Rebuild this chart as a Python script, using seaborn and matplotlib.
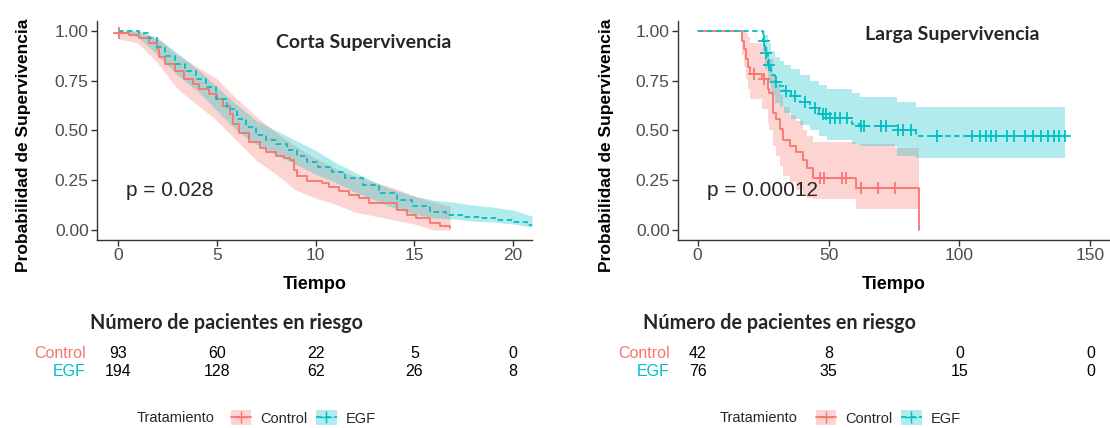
import numpy as np
import matplotlib
matplotlib.use("Agg")
import matplotlib.pyplot as plt
import matplotlib.transforms as mtransforms
from matplotlib.patches import Patch
from matplotlib.lines import Line2D
import seaborn as sns

# ---------------- data ----------------
groups = ["Control", "EGF"]

# Left panel: Corta Supervivencia
short_ctrl_t = [0, 0.55, 1.05, 1.55, 2.0, 2.07, 2.4, 2.9, 3.35, 3.8, 4.1, 4.6, 5.0, 5.3, 5.65, 5.82, 6.15, 6.65,
                7.2, 7.5, 8.0, 8.4, 8.7, 8.9, 9.05, 9.55, 10.3, 10.7, 11.2, 11.7, 12.2, 12.7, 14.1, 14.6, 15.1,
                15.8, 16.3, 16.8]
short_ctrl_s = [0.99, 0.98, 0.965, 0.94, 0.91, 0.87, 0.835, 0.80, 0.76, 0.735, 0.71, 0.685, 0.66, 0.625, 0.585,
                0.535, 0.485, 0.44, 0.41, 0.39, 0.37, 0.36, 0.35, 0.30, 0.27, 0.245, 0.235, 0.215, 0.195, 0.175,
                0.16, 0.135, 0.10, 0.075, 0.06, 0.035, 0.022, 0.012]
short_ctrl_band_t = [0, 1, 2, 3, 4, 5, 6, 7, 8, 9, 10, 11, 12, 13, 14, 15, 16, 16.8]
short_ctrl_upper = [1.0, 1.0, 0.97, 0.88, 0.82, 0.76, 0.66, 0.57, 0.49, 0.42, 0.36, 0.31, 0.27, 0.24, 0.21, 0.17,
                    0.14, 0.12]
short_ctrl_lower = [0.96, 0.94, 0.84, 0.71, 0.63, 0.55, 0.45, 0.35, 0.28, 0.20, 0.16, 0.13, 0.09, 0.07, 0.05,
                    0.03, 0.0, 0.0]
short_ctrl_cens_t = [0.05]

short_egf_t = [0, 1.05, 1.55, 2.0, 2.4, 2.9, 3.4, 3.95, 4.45, 4.95, 5.5, 6.0, 6.5, 7.0, 7.5, 8.0, 8.55, 9.05,
               9.55, 10.1, 10.85, 11.5, 12.4, 13.2, 14.1, 14.9, 15.8, 16.6, 17.5, 18.3, 19.2, 20.0, 20.7, 20.95]
short_egf_s = [1.0, 0.99, 0.965, 0.92, 0.875, 0.835, 0.80, 0.76, 0.72, 0.66, 0.61, 0.56, 0.52, 0.475, 0.45,
               0.43, 0.40, 0.37, 0.34, 0.315, 0.29, 0.26, 0.225, 0.185, 0.15, 0.12, 0.09, 0.075, 0.066, 0.058,
               0.05, 0.042, 0.025, 0.02]
short_egf_band_t = [0, 1, 2, 3, 4, 5, 6, 7, 8, 9, 10, 11, 12, 13, 14, 15, 16, 17, 18, 19, 20, 20.95]
short_egf_upper = [1.0, 1.0, 0.96, 0.89, 0.81, 0.72, 0.63, 0.55, 0.50, 0.45, 0.40, 0.34, 0.29, 0.24, 0.20,
                   0.17, 0.15, 0.14, 0.125, 0.115, 0.10, 0.07]
short_egf_lower = [1.0, 0.97, 0.88, 0.78, 0.70, 0.60, 0.50, 0.43, 0.38, 0.33, 0.28, 0.24, 0.19, 0.15, 0.11,
                   0.08, 0.06, 0.055, 0.045, 0.04, 0.03, 0.015]
short_egf_cens_t = []

# Right panel: Larga Supervivencia
long_ctrl_t = [0, 16.8, 17.6, 18.4, 19.2, 20.0, 24.6, 26.7, 27.4, 28.7, 30.0, 31.3, 32.6, 35.1, 37.7, 40.3,
               41.6, 44.2, 60.3, 75.2, 84.6]
long_ctrl_s = [1.0, 0.95, 0.91, 0.86, 0.82, 0.785, 0.76, 0.71, 0.69, 0.59, 0.56, 0.51, 0.45, 0.42, 0.39, 0.35,
               0.31, 0.26, 0.21, 0.21, 0.0]
long_ctrl_upper = [1.0, 1.0, 1.0, 0.99, 0.97, 0.94, 0.92, 0.88, 0.86, 0.78, 0.73, 0.68, 0.62, 0.58, 0.55, 0.50,
                   0.47, 0.44, 0.43, 0.41, 0.41]
long_ctrl_lower = [1.0, 0.88, 0.82, 0.76, 0.71, 0.66, 0.61, 0.54, 0.50, 0.42, 0.37, 0.32, 0.27, 0.24, 0.20,
                   0.17, 0.16, 0.155, 0.105, 0.105, 0.105]
long_ctrl_cens_t = [21.5, 25.4, 46.8, 48.1, 55.2, 56.5, 62.3, 68.7, 75.2]

long_egf_t = [0, 25.0, 25.8, 27.0, 28.0, 29.5, 31.3, 33.0, 35.5, 39.0, 43.0, 46.5, 49.5, 58.8, 62.0, 76.0,
              83.5, 140.5]
long_egf_s = [1.0, 0.95, 0.89, 0.83, 0.78, 0.745, 0.725, 0.70, 0.675, 0.645, 0.615, 0.585, 0.565, 0.535,
              0.525, 0.50, 0.47, 0.47]
long_egf_upper = [1.0, 1.0, 0.98, 0.94, 0.90, 0.87, 0.85, 0.83, 0.81, 0.78, 0.75, 0.73, 0.71, 0.69, 0.67,
                  0.645, 0.62, 0.62]
long_egf_lower = [1.0, 0.90, 0.81, 0.74, 0.68, 0.64, 0.62, 0.59, 0.56, 0.53, 0.50, 0.47, 0.45, 0.43, 0.42,
                  0.37, 0.36, 0.36]
long_egf_cens_t = [25.5, 26.3, 27.4, 30.0, 33.9, 37.1, 41.0, 45.0, 48.0, 49.0, 50.6, 52.5, 54.5, 57.1, 62.3,
                   63.5, 70.0, 72.0, 76.5, 78.5, 81.5, 91.4, 104.8, 108.0, 110.0, 112.0, 114.0, 118.0, 121.0,
                   125.0, 128.0, 131.0, 134.0, 136.0, 138.0, 140.5]

# Risk tables
short_risk_times = [0, 5, 10, 15, 20]
short_risk_ctrl = [93, 60, 22, 5, 0]
short_risk_egf = [194, 128, 62, 26, 8]
long_risk_times = [0, 50, 100, 150]
long_risk_ctrl = [42, 8, 0, 0]
long_risk_egf = [76, 35, 15, 0]

short_xticks = [0, 5, 10, 15, 20]
long_xticks = [0, 50, 100, 150]
yticks = [0.0, 0.25, 0.5, 0.75, 1.0]
ytick_labels = ["0.00", "0.25", "0.50", "0.75", "1.00"]

# ---------------- style ----------------
sns.set_theme(style="white")
plt.rcParams["font.family"] = ["Liberation Sans", "DejaVu Sans"]

RED = "#F8766D"
CYAN = "#00BFC4"
TXT = "#4D4D4D"
HEAD_FONT = ["Lato", "DejaVu Sans"]
W, H = 1110, 428

fig = plt.figure(figsize=(W / 100, H / 100), dpi=100)


def add_ax(l, t, r, b):
    return fig.add_axes([l / W, 1 - b / H, (r - l) / W, (b - t) / H])


def step_lookup(ts, ss, q):
    idx = np.searchsorted(np.asarray(ts), np.asarray(q, dtype=float), side="right") - 1
    return [ss[i] for i in idx]


def draw_curve(ax, t, s, bt, up, lo, ct, color, ls, band_step):
    ax.fill_between(bt, lo, up, step=band_step, color=color, alpha=0.3, lw=0)
    sns.lineplot(x=t, y=s, ax=ax, color=color, drawstyle="steps-post", linestyle=ls,
                 estimator=None, sort=False, lw=1.3)
    if len(ct):
        cs = step_lookup(t, s, ct)
        sns.scatterplot(x=ct, y=cs, ax=ax, marker="+", s=70, color=color, linewidth=1.3, zorder=5)


def style_ax(ax, xlim, xticks):
    ax.set_xlim(*xlim)
    ax.set_ylim(-0.05, 1.05)
    ax.set_xticks(xticks)
    ax.set_yticks(yticks)
    ax.set_yticklabels(ytick_labels)
    for sp in ["top", "right"]:
        ax.spines[sp].set_visible(False)
    for sp in ["left", "bottom"]:
        ax.spines[sp].set_color("#333333")
        ax.spines[sp].set_linewidth(1.0)
    ax.tick_params(bottom=True, left=True, length=4, width=1, color="#333333",
                   labelcolor=TXT, labelsize=12.5, pad=2)
    ax.set_xlabel("Tiempo", fontsize=13, fontweight="bold", color="black")
    ax.set_ylabel("Probabilidad de Supervivencia", fontsize=12.5, fontweight="bold", color="black")
    ax.xaxis.set_label_coords(0.5, -0.165)
    ax.grid(False)


# Left panel
axL = add_ax(97, 21, 532, 240)
draw_curve(axL, short_ctrl_t, short_ctrl_s, short_ctrl_band_t, short_ctrl_upper, short_ctrl_lower,
           short_ctrl_cens_t, RED, "-", None)
draw_curve(axL, short_egf_t, short_egf_s, short_egf_band_t, short_egf_upper, short_egf_lower,
           short_egf_cens_t, CYAN, (0, (3, 2)), None)
style_ax(axL, (-1.06, 20.95), short_xticks)
axL.yaxis.set_label_coords(-0.152, 0.434)
axL.text(0.614, 0.9, "Corta Supervivencia", transform=axL.transAxes, ha="center", va="center",
         fontsize=14, fontweight="bold", family=HEAD_FONT)
axL.text(0.067, 0.227, "p = 0.028", transform=axL.transAxes, ha="left", va="center", fontsize=15)

# Right panel
axR = add_ax(678, 21, 1110, 240)
draw_curve(axR, long_ctrl_t, long_ctrl_s, long_ctrl_t, long_ctrl_upper, long_ctrl_lower,
           long_ctrl_cens_t, RED, "-", "post")
draw_curve(axR, long_egf_t, long_egf_s, long_egf_t, long_egf_upper, long_egf_lower,
           long_egf_cens_t, CYAN, (0, (3, 2)), "post")
style_ax(axR, (-7.5, 157.5), long_xticks)
axR.yaxis.set_label_coords(-0.148, 0.434)
axR.text(0.634, 0.94, "Larga Supervivencia", transform=axR.transAxes, ha="center", va="center",
         fontsize=14, fontweight="bold", family=HEAD_FONT)
axR.text(0.067, 0.227, "p = 0.00012", transform=axR.transAxes, ha="left", va="center", fontsize=15)


# Risk tables
def risk_table(ax, head_x, lab_x, times, ctrl, egf):
    fig.text(head_x / W, 1 - 323 / H, "Número de pacientes en riesgo", ha="left", va="center",
             fontsize=14.2, fontweight="bold", family=HEAD_FONT)
    tr = mtransforms.blended_transform_factory(ax.transData, fig.transFigure)
    fig.text(lab_x / W, 1 - 354 / H, groups[0], ha="right", va="center", fontsize=11.5, color=RED)
    fig.text(lab_x / W, 1 - 372 / H, groups[1], ha="right", va="center", fontsize=11.5, color=CYAN)
    for x, a, b in zip(times, ctrl, egf):
        fig.text(x, 1 - 354 / H, str(a), transform=tr, ha="center", va="center", fontsize=11.5, color="black")
        fig.text(x, 1 - 372 / H, str(b), transform=tr, ha="center", va="center", fontsize=11.5, color="black")


risk_table(axL, 90, 86, short_risk_times, short_risk_ctrl, short_risk_egf)
risk_table(axR, 643, 670, long_risk_times, long_risk_ctrl, long_risk_egf)


# Legends
def legend_at(title_x, leg_x):
    fig.text(title_x / W, 1 - 418 / H, "Tratamiento", ha="left", va="center", fontsize=10.5)
    handles = [
        (Patch(facecolor=RED, alpha=0.3, lw=0), Line2D([], [], color=RED, lw=1.3, marker="+", markersize=8)),
        (Patch(facecolor=CYAN, alpha=0.3, lw=0),
         Line2D([], [], color=CYAN, lw=1.3, ls=(0, (3, 2)), marker="+", markersize=8)),
    ]
    fig.legend(handles, groups, loc="center left", bbox_to_anchor=(leg_x / W, 1 - 418 / H), ncol=2,
               frameon=False, fontsize=10.5, handlelength=1.4, handleheight=1.2, handletextpad=0.6,
               columnspacing=0.6, borderpad=0, borderaxespad=0)


legend_at(137, 231)
legend_at(720, 816)

fig.savefig("out.png", dpi=100)
